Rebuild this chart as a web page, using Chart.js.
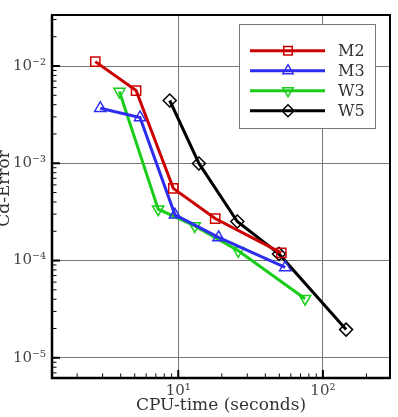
<!DOCTYPE html>
<html>
<head>
<meta charset="utf-8">
<script src="https://cdn.jsdelivr.net/npm/chart.js@4/dist/chart.umd.min.js"></script>
<style>
html,body{margin:0;padding:0;background:#fff;}
#wrap{width:398px;height:417px;}
</style>
</head>
<body>
<div id="wrap"><canvas id="c" width="398" height="417"></canvas></div>
<script>
// ---- data ----
const seriesNames = ['M2', 'M3', 'W3', 'W5'];
const M2_x = [2.67, 5.11, 9.24, 18.0, 51.6];
const M2_y = [1.11e-2, 5.59e-3, 5.52e-4, 2.70e-4, 1.20e-4];
const M3_x = [2.89, 5.44, 9.49, 19.0, 54.9];
const M3_y = [3.68e-3, 2.96e-3, 2.95e-4, 1.73e-4, 8.5e-5];
const W3_x = [3.92, 7.26, 13.0, 26.0, 75.3];
const W3_y = [5.46e-3, 3.37e-4, 2.27e-4, 1.26e-4, 4.05e-5];
const W5_x = [8.73, 13.9, 25.6, 49.7, 144.6];
const W5_y = [4.42e-3, 9.96e-4, 2.52e-4, 1.17e-4, 1.95e-5];
const xTickLabels = {1: '10\u00B9', 2: '10\u00B2'};
const yTickLabels = {'-2': '10\u207B\u00B2', '-3': '10\u207B\u00B3', '-4': '10\u207B\u2074', '-5': '10\u207B\u2075'};
const xTitle = 'CPU-time (seconds)';
const yTitle = 'Cd-Error';

const FONT = "'DejaVu Serif', serif";
const colors = ['rgb(204,0,0)', 'rgb(45,45,240)', 'rgb(25,205,25)', 'rgb(0,0,0)'];
const styles = ['rect', 'triangle', 'triangle', 'rectRot'];
const rotations = [0, 0, 180, 0];

function pts(xs, ys) { return xs.map((x, i) => ({x: x, y: ys[i]})); }
const allData = [pts(M2_x, M2_y), pts(M3_x, M3_y), pts(W3_x, W3_y), pts(W5_x, W5_y)];

function decadeExp(v) {
  const e = Math.log10(v);
  const r = Math.round(e);
  return Math.abs(e - r) < 1e-6 ? r : null;
}
function mantissaInt(v) {
  const e = Math.floor(Math.log10(v) + 1e-9);
  const m = v / Math.pow(10, e);
  const r = Math.round(m);
  return Math.abs(m - r) < 1e-6 ? r : null;
}

const framePlugin = {
  id: 'frame',
  afterDatasetsDraw(chart) {
    const ctx = chart.ctx, a = chart.chartArea;
    ctx.save();
    ctx.strokeStyle = '#000';
    const xs = chart.scales.x, ys = chart.scales.y;
    xs.ticks.forEach(t => {
      const m = mantissaInt(t.value);
      if (m === null) return;
      const px = xs.getPixelForValue(t.value);
      if (px < a.left + 1 || px > a.right - 1) return;
      const major = m === 1 || m === 10;
      ctx.lineWidth = major ? 2 : 1;
      ctx.beginPath();
      ctx.moveTo(px, a.bottom);
      ctx.lineTo(px, a.bottom - (major ? 8 : 4.5));
      ctx.stroke();
    });
    ys.ticks.forEach(t => {
      const m = mantissaInt(t.value);
      if (m === null) return;
      const py = ys.getPixelForValue(t.value);
      if (py < a.top + 1 || py > a.bottom - 1) return;
      const major = m === 1 || m === 10;
      ctx.lineWidth = major ? 2 : 1;
      ctx.beginPath();
      ctx.moveTo(a.left, py);
      ctx.lineTo(a.left + (major ? 8 : 4.5), py);
      ctx.stroke();
    });
    ctx.lineWidth = 2;
    ctx.strokeRect(a.left, a.top, a.right - a.left, a.bottom - a.top);
    ctx.lineWidth = 2.5;
    ctx.beginPath();
    ctx.moveTo(a.left, a.top);
    ctx.lineTo(a.left, a.bottom);
    ctx.lineTo(a.right, a.bottom);
    ctx.stroke();
    ctx.restore();
  },
  afterDraw(chart) {
    const ctx = chart.ctx;
    ctx.save();
    const bx = 239.5, by = 24.5, bw = 136, bh = 104;
    ctx.fillStyle = '#fff';
    ctx.fillRect(bx, by, bw, bh);
    ctx.strokeStyle = '#777';
    ctx.lineWidth = 1;
    ctx.strokeRect(bx, by, bw, bh);
    chart.data.datasets.forEach((ds, i) => {
      const y = 50.7 + i * 20;
      ctx.strokeStyle = ds.borderColor;
      ctx.lineWidth = 3;
      ctx.beginPath();
      ctx.moveTo(250, y);
      ctx.lineTo(325, y);
      ctx.stroke();
      ctx.lineWidth = 1.5;
      ctx.fillStyle = 'rgba(0,0,0,0)';
      Chart.helpers.drawPoint(ctx, {pointStyle: ds.pointStyle, rotation: ds.pointRotation, radius: 6, borderWidth: 1.5}, 288, y);
      ctx.fillStyle = '#333';
      ctx.font = '16px ' + FONT;
      ctx.textBaseline = 'middle';
      ctx.textAlign = 'left';
      ctx.fillText(ds.label, 338, y + 1);
    });
    ctx.restore();
  }
};

const datasets = seriesNames.map((name, i) => ({
  label: name,
  data: allData[i],
  borderColor: colors[i],
  backgroundColor: 'rgba(0,0,0,0)',
  borderWidth: 3,
  pointStyle: styles[i],
  pointRotation: rotations[i],
  pointRadius: 6.5,
  pointHoverRadius: 6.5,
  pointBorderWidth: 1.5,
  pointBorderColor: colors[i],
  pointBackgroundColor: 'rgba(0,0,0,0)',
  tension: 0,
  fill: false
}));

new Chart(document.getElementById('c'), {
  type: 'line',
  data: {datasets: datasets},
  plugins: [framePlugin],
  options: {
    responsive: false,
    devicePixelRatio: 1,
    animation: false,
    events: [],
    layout: {padding: {top: 13, right: 5, left: 0, bottom: 0}},
    plugins: {legend: {display: false}, tooltip: {enabled: false}},
    scales: {
      x: {
        type: 'logarithmic',
        min: 1.34, max: 291,
        afterFit(s) { s.height = 39; },
        border: {display: false},
        grid: {
          drawTicks: false,
          color: c => (c.tick && decadeExp(c.tick.value) !== null) ? '#777' : 'rgba(0,0,0,0)',
          lineWidth: 1
        },
        ticks: {
          autoSkip: false, maxRotation: 0, padding: 4,
          color: '#444',
          font: {family: FONT, size: 15},
          callback: v => { const e = decadeExp(v); return e !== null && xTickLabels[e] ? xTickLabels[e] : ''; }
        },
        title: {display: true, text: xTitle, color: '#333', font: {family: FONT, size: 17}, padding: {top: 0, bottom: 1}}
      },
      y: {
        type: 'logarithmic',
        min: 6.2e-6, max: 0.03345,
        afterFit(s) { s.width = 52; },
        border: {display: false},
        grid: {
          drawTicks: false,
          color: c => (c.tick && decadeExp(c.tick.value) !== null) ? '#777' : 'rgba(0,0,0,0)',
          lineWidth: 1
        },
        ticks: {
          autoSkip: false, padding: 6,
          color: '#444',
          font: {family: FONT, size: 15},
          callback: v => { const e = decadeExp(v); return e !== null && yTickLabels[e] ? yTickLabels[e] : ''; }
        },
        title: {display: true, text: '   ' + yTitle, color: '#333', font: {family: FONT, size: 17}, padding: {top: -6, bottom: 0}}
      }
    }
  }
});
</script>
</body>
</html>
